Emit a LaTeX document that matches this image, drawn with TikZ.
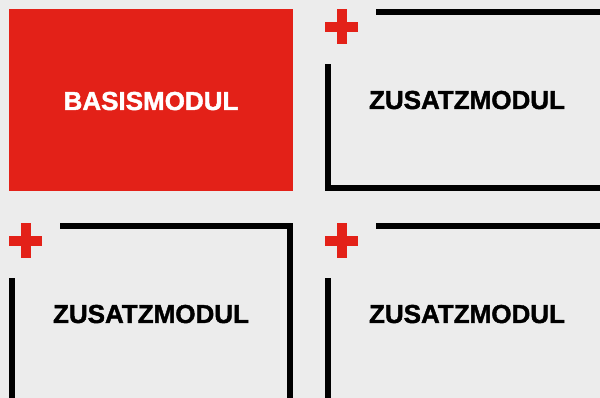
\documentclass[tikz,border=0pt]{standalone}
\usepackage{fontspec}
\setmainfont{Liberation Sans}[BoldFeatures={FakeBold=1.6}]
\definecolor{modulred}{HTML}{E32118}
\definecolor{paper}{HTML}{ECECEC}

\begin{document}
\begin{tikzpicture}[x=1pt,y=-1pt,
    frameline/.style={line width=6pt,black,line join=miter},
    modtext/.style={font=\fontsize{26}{30}\selectfont\bfseries,anchor=base}]
  \fill [paper] (0,0) rectangle (600,398);
  \useasboundingbox (0,0) rectangle (600,398);
  \clip (0,0) rectangle (600,398);

  %% Basismodul
  \fill [modulred] (9,9) rectangle (293,191);
  \node [modtext,white] (basis) at (151,110) {BASISMODUL};

  %% Zusatzmodule
  \foreach \X/\Y/\n in {325/9/a, 9/223/b, 325/223/c} {
    \draw [frameline] (\X+51,\Y+3) -- (\X+281,\Y+3) -- (\X+281,\Y+179)
      -- (\X+3,\Y+179) -- (\X+3,\Y+55.3);
    \fill [modulred] (\X+0.3,\Y+12.7) rectangle (\X+32.7,\Y+23.3);
    \fill [modulred] (\X+11.7,\Y+0.3) rectangle (\X+21.7,\Y+35.3);
    \node [modtext] (zusatz\n) at (\X+142,\Y+100) {ZUSATZMODUL};
  }
\end{tikzpicture}
\end{document}
